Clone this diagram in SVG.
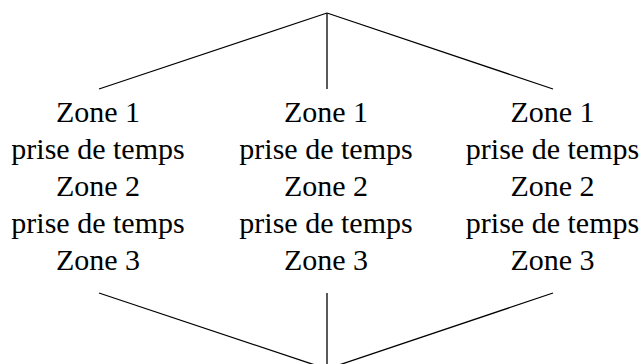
<svg xmlns="http://www.w3.org/2000/svg" width="644" height="364" viewBox="0 0 644 364">
<style>
text{font-family:"Liberation Serif","Times New Roman",serif;font-size:30px;fill:#000;text-anchor:middle}
.c line{stroke:#000;stroke-width:1.3;fill:none}
</style>
<rect width="644" height="364" fill="#fff"/>
<g class="c" id="connectors">
<line x1="327" y1="13" x2="99" y2="89"/>
<line x1="327" y1="13" x2="327" y2="89"/>
<line x1="327" y1="13" x2="553" y2="89"/>
<line x1="99" y1="293" x2="327" y2="369"/>
<line x1="327" y1="293" x2="327" y2="369"/>
<line x1="553" y1="293" x2="327" y2="369"/>
</g>
<g id="node1">
<text x="98" y="121.5">Zone 1</text>
<text x="98" y="158.5">prise de temps</text>
<text x="98" y="195.5">Zone 2</text>
<text x="98" y="232.5">prise de temps</text>
<text x="98" y="269.5">Zone 3</text>
</g>
<g id="node2">
<text x="326" y="121.5">Zone 1</text>
<text x="326" y="158.5">prise de temps</text>
<text x="326" y="195.5">Zone 2</text>
<text x="326" y="232.5">prise de temps</text>
<text x="326" y="269.5">Zone 3</text>
</g>
<g id="node3">
<text x="552.5" y="121.5">Zone 1</text>
<text x="552.5" y="158.5">prise de temps</text>
<text x="552.5" y="195.5">Zone 2</text>
<text x="552.5" y="232.5">prise de temps</text>
<text x="552.5" y="269.5">Zone 3</text>
</g>
</svg>
